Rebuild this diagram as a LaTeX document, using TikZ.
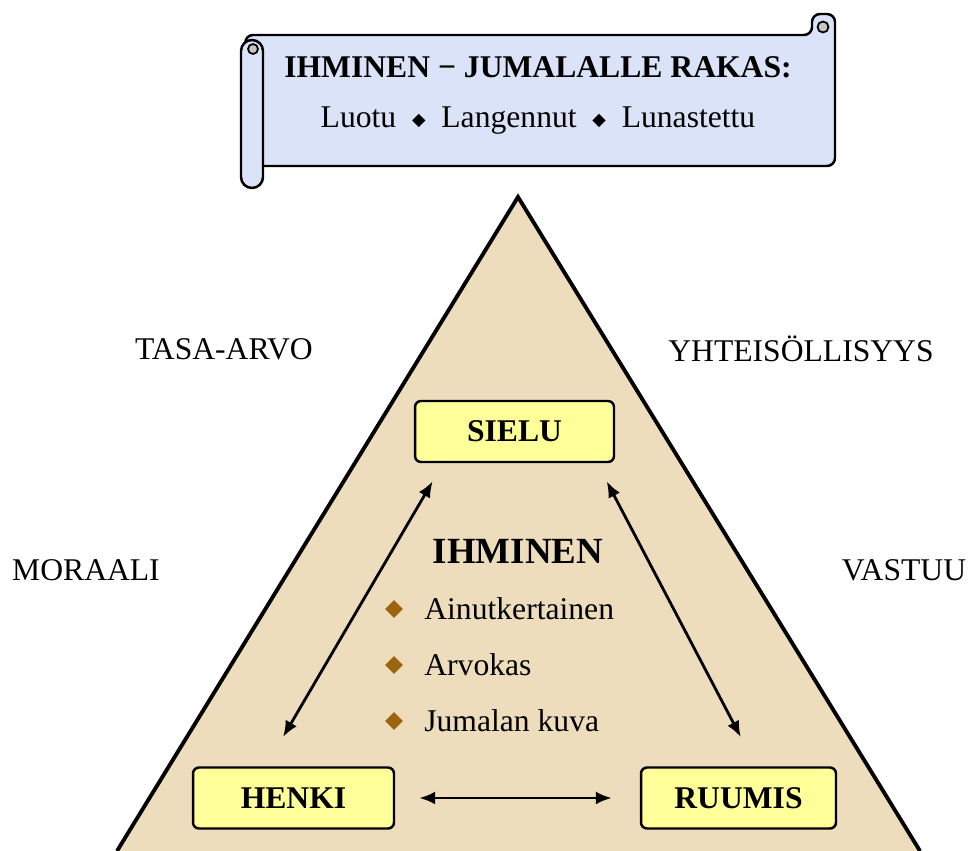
\documentclass[tikz,border=0pt]{standalone}
\usepackage{fontspec}
\setmainfont{Liberation Serif}
\newfontfamily\symfont{DejaVu Sans}
\usetikzlibrary{arrows.meta,shapes.geometric}
\definecolor{parchment}{HTML}{EEDDBC}
\definecolor{scrollblue}{HTML}{DAE3F7}
\definecolor{boxyellow}{HTML}{FFFF99}
\definecolor{bulletbrown}{HTML}{9C6410}
\begin{document}
\begin{tikzpicture}[x=0.02cm,y=-0.02cm,
  every node/.style={inner sep=0pt,font=\fontsize{18}{22}\selectfont},
  partbox/.style={draw=black,line width=1.4pt,fill=boxyellow,rounded corners=0.12cm,
    minimum height=1.22cm,font=\fontsize{18}{22}\selectfont\bfseries},
  twoway/.style={{Latex[length=0.32cm,width=0.26cm]}-{Latex[length=0.32cm,width=0.26cm]},line width=1.6pt},
  bullet/.style={diamond,fill=bulletbrown,minimum size=0.36cm},
  scrollpart/.style={draw=black,line width=1.4pt,fill=scrollblue}]
\useasboundingbox (0,0) rectangle (973,851);
\fill [parchment] (518,197) -- (117,851) -- (920,851) -- cycle;
\draw [line width=2.2pt] (117,851) -- (518,197) -- (920,851);
\draw [scrollpart,rounded corners=0.16cm] (245,35) -- (812,35) -- (812,14) -- (835,14) -- (835,166) -- (250,166) -- cycle;
\draw [line width=1pt,fill=gray!45] (823,27) circle (0.11cm);
\draw [scrollpart,rounded corners=0.22cm] (241,40) rectangle (263,188);
\draw [line width=1pt,fill=gray!45] (253,49) circle (0.1cm);
\node (title) at (538,67) {\bfseries IHMINEN − JUMALALLE RAKAS:};
\node (subtitle) at (538,121) {Luotu\ \ \raisebox{1.5pt}{\symfont\fontsize{10}{10}\selectfont ◆}\ \ Langennut\ \ \raisebox{1.5pt}{\symfont\fontsize{10}{10}\selectfont ◆}\ \ Lunastettu};
\node (tasa) at (224,349) {TASA-ARVO};
\node (yhteis) at (801,349) {YHTEISÖLLISYYS};
\node (moraali) at (86,570) {MORAALI};
\node (vastuu) at (904,570) {VASTUU};
\node [partbox,minimum width=3.98cm] (sielu) at (514.5,431.5) {SIELU};
\node [partbox,minimum width=4.02cm] (henki) at (293.5,798) {HENKI};
\node [partbox,minimum width=3.9cm] (ruumis) at (738.5,798) {RUUMIS};
\node [font=\fontsize{21}{25}\selectfont\bfseries] (ihminen) at (518,551) {IHMINEN};
\node [bullet] (b1) at (394,609) {};
\node [bullet] (b2) at (394,665) {};
\node [bullet] (b3) at (394,721) {};
\node [anchor=west] (t1) at (424,609) {Ainutkertainen};
\node [anchor=west] (t2) at (424,665) {Arvokas};
\node [anchor=west] (t3) at (424,721) {Jumalan kuva};
\draw [twoway,shorten <=0.42cm,shorten >=0.68cm] (sielu.204.2) -- (henki.131.9);
\draw [twoway,shorten <=0.41cm,shorten >=0.66cm] (sielu.339) -- (ruumis.61.1);
\draw [twoway,shorten <=0.48cm,shorten >=0.56cm] (henki.east) -- (ruumis.west);
\end{tikzpicture}
\end{document}
